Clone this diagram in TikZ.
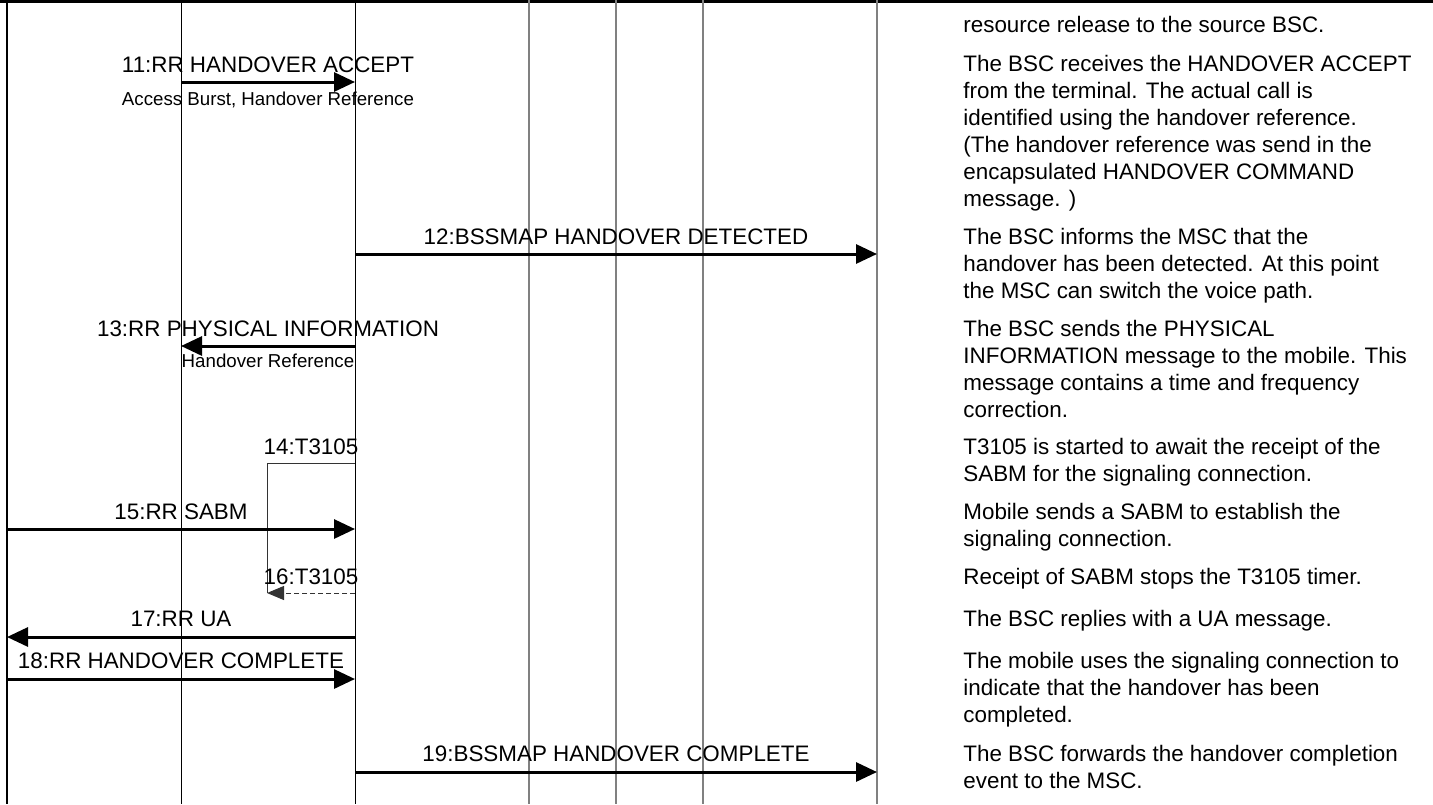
\documentclass[tikz,border=0pt]{standalone}
\usepackage{fontspec}
\setmainfont{Liberation Sans}
\usetikzlibrary{arrows.meta}

\begin{document}
\begin{tikzpicture}[x=0.5pt,y=-0.5pt,
    every node/.style={inner sep=0pt,font=\fontsize{11.2}{13.5}\selectfont},
    life/.style={black,line width=0.5pt},
    lifegray/.style={black!50,line width=0.75pt},
    msg/.style={black,line width=1.5pt,-{Triangle[length=10.5pt,width=9.5pt]}},
    lbl/.style={anchor=base},
    sublbl/.style={anchor=base,font=\fontsize{9.35}{11}\selectfont},
    desc/.style={anchor=base west,align=left},
    timer/.style={black!80,line width=0.5pt},
    timerstop/.style={timer,dash pattern=on 2.5pt off 1.5pt,-{Triangle[length=8.5pt,width=7pt]}}]
  \useasboundingbox (0,0) rectangle (1433,804);
  \coordinate (ms) at (7,0);
  \coordinate (bts) at (181,0);
  \coordinate (bsc) at (355,0);
  \coordinate (ia) at (529,0);
  \coordinate (ib) at (616,0);
  \coordinate (ic) at (703,0);
  \coordinate (msc) at (877,0);
  \draw[black,line width=1.5pt] (0,1.5) -- (1433,1.5);
  \draw[life,line width=0.75pt] (ms) -- (ms |- 0,804);
  \foreach \c in {bts,bsc} \draw[life] (\c) -- (\c |- 0,804);
  \foreach \c in {ia,ib,ic,msc} \draw[lifegray] (\c) -- (\c |- 0,804);

  \draw[msg] (bts |- 0,82) -- (bsc |- 0,82);
  \node[lbl] (m11) at (268,72) {11:RR HANDOVER ACCEPT};
  \node[sublbl] (s11) at (268,105) {Access Burst, Handover Reference};

  \draw[msg] (bsc |- 0,254) -- (msc |- 0,254);
  \node[lbl] (m12) at (616,244) {12:BSSMAP HANDOVER DETECTED};

  \draw[msg] (bsc |- 0,346) -- (bts |- 0,346);
  \node[lbl] (m13) at (268,336) {13:RR PHYSICAL INFORMATION};
  \node[sublbl] (s13) at (268,367) {Handover Reference};

  \coordinate (t14) at (267,463);
  \draw[timer] (bsc |- t14) -- (t14) -- (t14 |- 0,593);
  \node[lbl] (m14) at (311,454) {14:T3105};

  \draw[msg] (ms |- 0,529) -- (bsc |- 0,529);
  \node[lbl] (m15) at (181,519) {15:RR SABM};

  \draw[timerstop] (bsc |- 0,593) -- (t14 |- 0,593);
  \node[lbl] (m16) at (311,584) {16:T3105};

  \draw[msg] (bsc |- 0,637) -- (ms |- 0,637);
  \node[lbl] (m17) at (181,626) {17:RR UA};

  \draw[msg] (ms |- 0,679) -- (bsc |- 0,679);
  \node[lbl] (m18) at (181,668) {18:RR HANDOVER COMPLETE};

  \draw[msg] (bsc |- 0,772) -- (msc |- 0,772);
  \node[lbl] (m19) at (616,761) {19:BSSMAP HANDOVER COMPLETE};

  \node[desc] (d10) at (963,32) {resource release to the source BSC.};
  \node[desc] (d11) at (963,206) {The BSC receives the HANDOVER ACCEPT\\from the terminal. The actual call is\\identified using the handover reference.\\(The handover reference was send in the\\encapsulated HANDOVER COMMAND\\message. )};
  \node[desc] (d12) at (963,298) {The BSC informs the MSC that the\\handover has been detected. At this point\\the MSC can switch the voice path.};
  \node[desc] (d13) at (963,417) {The BSC sends the PHYSICAL\\INFORMATION message to the mobile. This\\message contains a time and frequency\\correction.};
  \node[desc] (d14) at (963,481) {T3105 is started to await the receipt of the\\SABM for the signaling connection.};
  \node[desc] (d15) at (963,546) {Mobile sends a SABM to establish the\\signaling connection.};
  \node[desc] (d16) at (963,584) {Receipt of SABM stops the T3105 timer.};
  \node[desc] (d17) at (963,626) {The BSC replies with a UA message.};
  \node[desc] (d18) at (963,722) {The mobile uses the signaling connection to\\indicate that the handover has been\\completed.};
  \node[desc] (d19) at (963,788) {The BSC forwards the handover completion\\event to the MSC.};
\end{tikzpicture}
\end{document}
